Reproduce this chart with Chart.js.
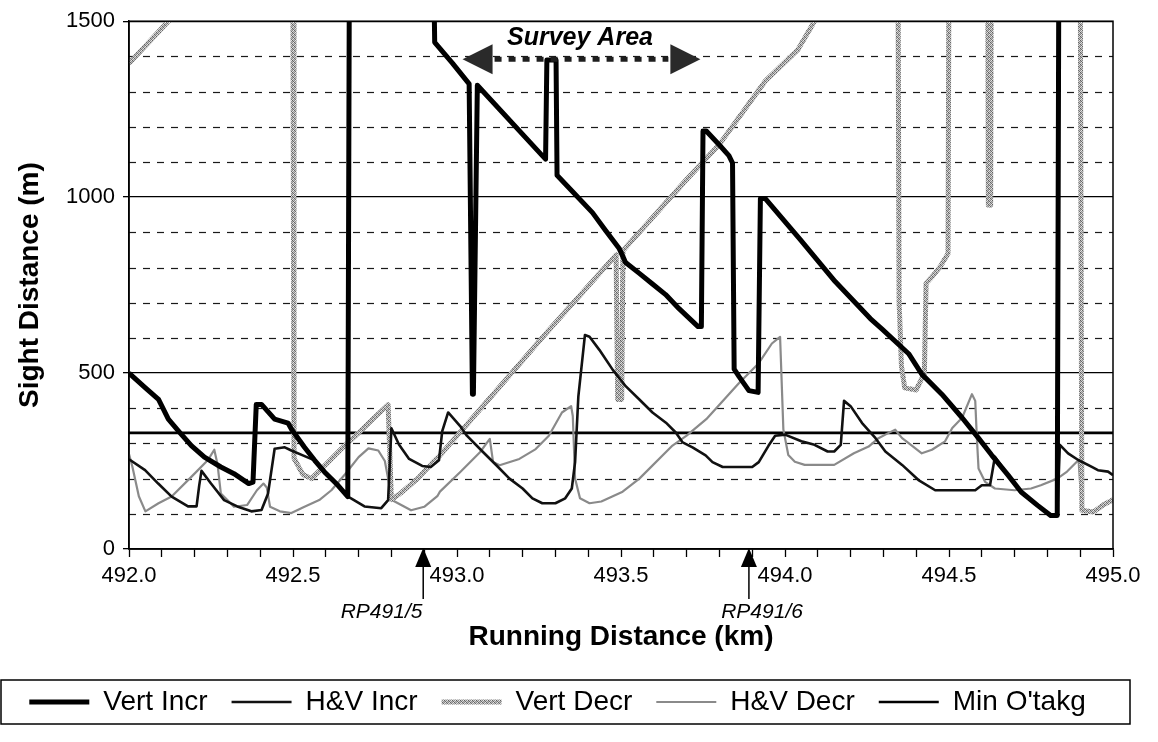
<!DOCTYPE html>
<html>
<head>
<meta charset="utf-8">
<script src="https://cdn.jsdelivr.net/npm/chart.js@4.4.1/dist/chart.umd.min.js"></script>
<style>
  html, body { margin: 0; padding: 0; background: #fff; }
  #wrap { width: 1158px; height: 742px; position: relative; }
</style>
</head>
<body>
<div id="wrap"><canvas id="c" width="1158" height="742"></canvas></div>
<script>
// ---------------- DATA (km, metres) ----------------
const vertIncrKm = [492.00,492.05,492.09,492.12,492.155,492.19,492.23,492.28,492.32,492.365,492.378,492.388,492.404,492.444,492.485,492.495,492.535,492.566,492.596,492.637,492.667,492.672,492.928,492.932,492.986,493.037,493.047,493.050,493.062,493.26,493.27,493.274,493.302,493.305,493.352,493.413,493.453,493.494,493.514,493.555,493.596,493.636,493.677,493.735,493.745,493.750,493.760,493.800,493.829,493.840,493.845,493.860,493.890,493.918,493.925,493.940,494.046,494.153,494.26,494.296,494.377,494.417,494.478,494.540,494.590,494.630,494.680,494.720,494.770,494.810,494.830,494.835,495.00];
const vertIncrM  = [500,458,425,369,331,294,261,233,214,186,190,411,411,369,358,341,289,252,219,181,149,1700,1700,1440,1381,1322,440,440,1318,1118,1108,1390,1390,1062,1016,956,905,855,814,784,753,723,683,632,632,1188,1188,1148,1118,1097,511,490,450,445,996,996,880,760,655,625,555,497,440,373,315,267,210,162,124,95,95,1700,1700];

const hvIncrKm = [492.00,492.049,492.089,492.13,492.18,492.206,492.214,492.221,492.25,492.29,492.33,492.373,492.404,492.424,492.444,492.475,492.495,492.53,492.566,492.596,492.637,492.667,492.677,492.718,492.769,492.79,492.80,492.823,492.854,492.894,492.92,492.945,492.955,492.973,493.009,493.03,493.08,493.12,493.16,493.20,493.23,493.26,493.30,493.33,493.35,493.36,493.37,493.39,493.404,493.434,493.475,493.515,493.556,493.596,493.637,493.667,493.688,493.718,493.758,493.779,493.81,493.90,493.92,493.95,493.97,494.00,494.05,494.09,494.13,494.15,494.17,494.18,494.20,494.235,494.276,494.306,494.357,494.407,494.458,494.58,494.60,494.625,494.64,494.68,494.72,494.77,494.81,494.83,494.838,494.863,494.894,494.934,494.954,494.985,495.00];
const hvIncrM  = [255,224,186,149,121,121,180,222,186,139,121,107,111,158,285,289,280,266,252,219,181,149,144,121,116,139,343,297,256,236,233,252,335,388,350,322,275,238,200,172,144,130,130,144,172,247,434,608,603,566,509,462,425,388,359,331,303,289,266,247,233,233,247,294,322,325,306,296,277,277,296,421,406,358,315,277,239,196,167,167,181,181,262,210,162,124,95,95,296,272,253,234,224,220,210];

const vertDecrKm = [492.00,492.05,492.125,492.13,492.495,492.50,492.503,492.53,492.556,492.60,492.65,492.70,492.75,492.79,492.80,492.83,492.88,492.93,492.948,493.10,493.28,493.485,493.49,493.502,493.506,493.70,493.80,493.94,494.04,494.09,494.095,494.342,494.345,494.348,494.355,494.365,494.40,494.425,494.43,494.45,494.475,494.497,494.50,494.618,494.62,494.627,494.629,494.900,494.905,494.94,494.97,495.00];
const vertDecrM  = [1380,1430,1505,1700,1700,1500,258,212,200,240,287,330,375,410,140,160,200,250,266,429,622,836,425,425,848,1050,1150,1330,1420,1500,1700,1700,1500,700,520,458,452,500,755,775,805,840,1700,1700,977,977,1700,1700,110,105,125,140];

const hvDecrKm = [492.00,492.01,492.03,492.05,492.09,492.13,492.19,492.24,492.26,492.27,492.28,492.30,492.32,492.36,492.39,492.41,492.42,492.43,492.46,492.495,492.535,492.58,492.617,492.66,492.70,492.73,492.76,492.78,492.79,492.80,492.82,492.86,492.90,492.94,492.948,493.01,493.07,493.10,493.11,493.13,493.19,493.24,493.28,493.32,493.348,493.353,493.36,493.375,493.404,493.44,493.505,493.556,493.657,493.70,493.76,493.86,493.92,493.96,493.985,493.995,494.01,494.03,494.06,494.15,494.21,494.255,494.285,494.316,494.336,494.357,494.377,494.417,494.448,494.488,494.51,494.54,494.57,494.58,494.585,494.59,494.61,494.64,494.70,494.75,494.78,494.83,494.86,494.895,494.905,494.94,494.97,495.00];
const hvDecrM  = [270,235,150,107,130,149,205,252,282,240,158,139,120,125,167,186,175,120,107,102,120,139,167,214,261,286,280,250,200,140,130,110,120,150,163,219,275,313,247,238,256,284,322,388,406,378,200,144,130,135,163,200,294,322,369,472,528,584,603,340,267,248,239,239,272,291,315,330,339,315,301,272,282,306,344,373,440,421,315,229,191,172,167,172,181,200,220,253,110,105,125,140];

const minOtakgKm = [492.0, 495.0];
const minOtakgM  = [330, 330];

const seriesNames = ['Vert Incr', 'H&V Incr', 'Vert Decr', 'H&V Decr', "Min O'takg"];

// axis / annotation values
const xTickStepKm = 0.1;
const yLabelStepM = 500;
const dashedGridM = [100,200,300,400,600,700,800,900,1100,1200,1300,1400];
const rpKm = [492.897, 493.89];
const rpLabels = ['RP491/5', 'RP491/6'];
const rpLabelKm = [492.77, 493.93];
const surveyStartKm = 493.017, surveyEndKm = 493.742, surveyArrowM = 1392;
const surveyLabel = 'Survey Area', surveyLabelKm = 493.375, surveyLabelM = 1452;

// ---------------- helpers ----------------
const toPts = (xs, ys) => xs.map((x, i) => ({ x: x, y: ys[i] }));

// stippled grey pattern for the thick "Vert Decr" line
function stipple() {
  const c = document.createElement('canvas');
  c.width = 4; c.height = 4;
  const g = c.getContext('2d');
  const shades = ['#5e5e5e','#c8c8c8','#8a8a8a','#e4e4e4',
                  '#b0b0b0','#6a6a6a','#d4d4d4','#949494',
                  '#888888','#e8e8e8','#646464','#bcbcbc',
                  '#dcdcdc','#989898','#c0c0c0','#707070'];
  shades.forEach((s, i) => { g.fillStyle = s; g.fillRect(i % 4, Math.floor(i / 4), 1, 1); });
  return g.createPattern(c, 'repeat');
}
const stipplePattern = stipple();

const FONT = "'Liberation Sans', Arial, Helvetica, sans-serif";
Chart.defaults.font.family = FONT;
Chart.defaults.color = '#000';

const decor = {
  id: 'decor',
  beforeDatasetsDraw(chart) {
    const { ctx, chartArea: a, scales: { y } } = chart;
    ctx.save();
    ctx.strokeStyle = '#1a1a1a';
    ctx.lineWidth = 1.2;
    ctx.setLineDash([7, 7]);
    dashedGridM.forEach(v => {
      const py = Math.round(y.getPixelForValue(v)) + 0.5;
      ctx.beginPath(); ctx.moveTo(a.left, py); ctx.lineTo(a.right, py); ctx.stroke();
    });
    ctx.restore();
  },
  afterDatasetsDraw(chart) {
    const { ctx, chartArea: a, scales: { x, y } } = chart;
    ctx.save();
    // plot frame
    ctx.strokeStyle = '#000'; ctx.lineWidth = 1.5;
    ctx.strokeRect(a.left, a.top, a.right - a.left, a.bottom - a.top);

    // Survey Area arrow
    const x1 = x.getPixelForValue(surveyStartKm), x2 = x.getPixelForValue(surveyEndKm);
    const ya = y.getPixelForValue(surveyArrowM);
    const headL = 30, headH = 15;
    ctx.strokeStyle = '#1e1e1e'; ctx.lineWidth = 5; ctx.setLineDash([7, 7]);
    ctx.beginPath(); ctx.moveTo(x1 + headL + 2, ya); ctx.lineTo(x2 - headL - 2, ya); ctx.stroke();
    ctx.setLineDash([]);
    ctx.fillStyle = '#2a2a2a';
    ctx.beginPath(); ctx.moveTo(x1, ya); ctx.lineTo(x1 + headL, ya - headH); ctx.lineTo(x1 + headL, ya + headH); ctx.closePath(); ctx.fill();
    ctx.beginPath(); ctx.moveTo(x2, ya); ctx.lineTo(x2 - headL, ya - headH); ctx.lineTo(x2 - headL, ya + headH); ctx.closePath(); ctx.fill();
    ctx.fillStyle = '#000';
    ctx.font = "italic bold 25px " + FONT;
    ctx.textAlign = 'center'; ctx.textBaseline = 'middle';
    ctx.fillText(surveyLabel, x.getPixelForValue(surveyLabelKm), y.getPixelForValue(surveyLabelM));
    ctx.restore();
  },
  afterDraw(chart) {
    const { ctx, chartArea: a, scales: { x }, legend } = chart;
    ctx.save();
    // RP markers
    ctx.fillStyle = '#000'; ctx.strokeStyle = '#000'; ctx.lineWidth = 1.5;
    rpKm.forEach((km, i) => {
      const px = x.getPixelForValue(km);
      ctx.beginPath(); ctx.moveTo(px, a.bottom - 1); ctx.lineTo(px - 8, a.bottom + 18); ctx.lineTo(px + 8, a.bottom + 18); ctx.closePath(); ctx.fill();
      ctx.beginPath(); ctx.moveTo(px, a.bottom + 18); ctx.lineTo(px, a.bottom + 50); ctx.stroke();
      ctx.font = "italic 21px " + FONT;
      ctx.textAlign = 'center'; ctx.textBaseline = 'middle';
      ctx.fillText(rpLabels[i], x.getPixelForValue(rpLabelKm[i]), a.bottom + 63);
    });
    // legend frame
    if (legend && legend.legendHitBoxes && legend.legendHitBoxes.length) {
      const hb = legend.legendHitBoxes[0];
      const cy = hb.top + hb.height / 2;
      ctx.lineWidth = 1.5;
      ctx.strokeRect(1, cy - 22, 1129, 44);
    }
    ctx.restore();
  }
};

const datasets = [
  { label: seriesNames[0], data: toPts(vertIncrKm, vertIncrM), borderColor: '#000', borderWidth: 5 },
  { label: seriesNames[1], data: toPts(hvIncrKm, hvIncrM), borderColor: '#111', borderWidth: 2.6 },
  { label: seriesNames[2], data: toPts(vertDecrKm, vertDecrM), borderColor: stipplePattern, borderWidth: 5 },
  { label: seriesNames[3], data: toPts(hvDecrKm, hvDecrM), borderColor: '#8a8a8a', borderWidth: 2.2 },
  { label: seriesNames[4], data: toPts(minOtakgKm, minOtakgM), borderColor: '#000', borderWidth: 2.6 }
].map(d => Object.assign({
  showLine: true, pointRadius: 0, pointHoverRadius: 0, pointStyle: 'line',
  tension: 0, fill: false, clip: 0, borderJoinStyle: 'round', borderCapStyle: 'butt'
}, d));

new Chart(document.getElementById('c'), {
  type: 'line',
  data: { datasets },
  options: {
    responsive: false,
    animation: false,
    events: [],
    layout: { padding: { left: 2, right: 45, top: 21, bottom: 16 } },
    plugins: {
      legend: {
        position: 'bottom',
        labels: {
          usePointStyle: true,
          pointStyleWidth: 60,
          padding: 24,
          color: '#000',
          font: { size: 28 }
        }
      },
      tooltip: { enabled: false }
    },
    scales: {
      x: {
        type: 'linear',
        min: 492, max: 495,
        afterFit: s => { s.height = 115; },
        grid: { drawOnChartArea: false, drawTicks: true, tickLength: 8, color: '#000', tickWidth: 1.3 },
        border: { display: true, color: '#000', width: 1.5 },
        ticks: {
          stepSize: xTickStepKm, autoSkip: false, maxRotation: 0, padding: 6,
          font: { size: 22 }, color: '#000',
          callback: v => { const r = Math.round(v * 10); return r % 5 === 0 ? (r / 10).toFixed(1) : ''; }
        },
        title: { display: true, text: 'Running Distance (km)', font: { size: 28, weight: 'bold' }, color: '#000', padding: { top: 0, bottom: 10 } }
      },
      y: {
        min: 0, max: 1500,
        afterFit: s => { s.width = 127; },
        grid: { color: '#000', lineWidth: 1.3, tickLength: 6 },
        border: { display: true, color: '#000', width: 1.5 },
        ticks: { stepSize: yLabelStepM, padding: 8, font: { size: 22 }, color: '#000', callback: v => String(v) },
        title: { display: true, text: 'Sight Distance (m)', font: { size: 28, weight: 'bold' }, color: '#000', padding: { top: 11, bottom: 0 } }
      }
    }
  },
  plugins: [decor]
});
</script>
</body>
</html>
